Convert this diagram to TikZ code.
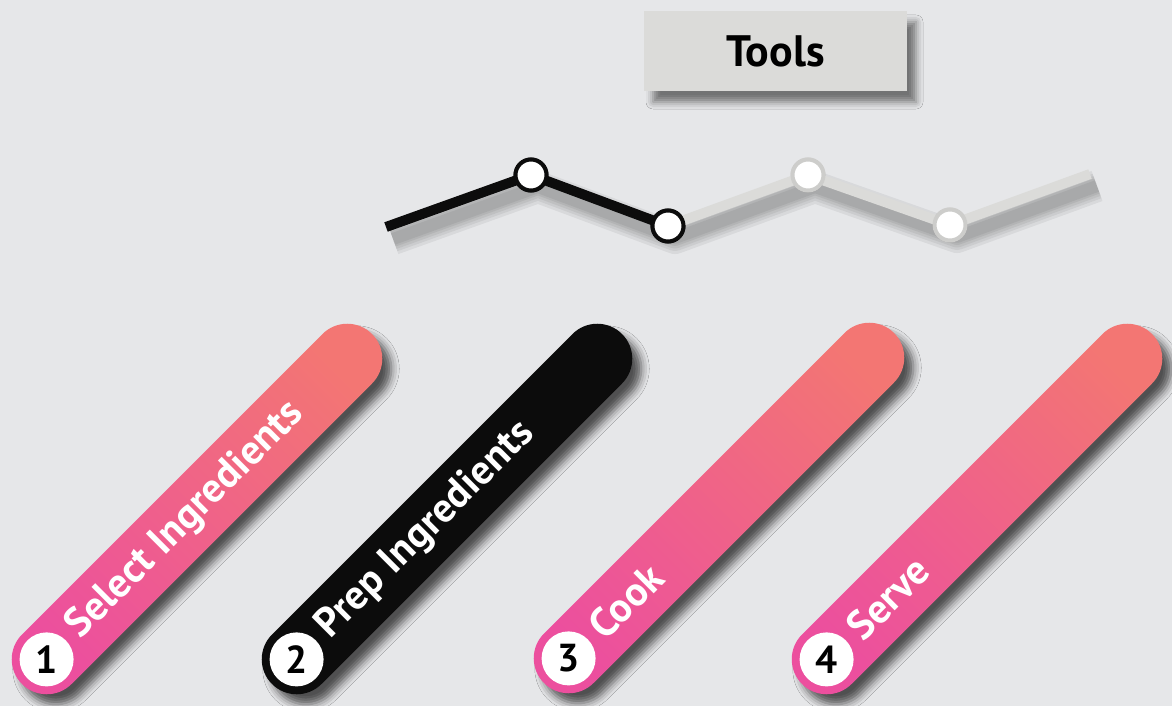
\documentclass[tikz,border=0pt]{standalone}
\usepackage{fontspec}
\setmainfont{PT Sans}
\usetikzlibrary{calc,positioning,shadows.blur}
\definecolor{bgGray}{HTML}{E6E7E9}
\definecolor{pinkLow}{HTML}{EC4F9E}
\definecolor{salmonHigh}{HTML}{F37673}
\definecolor{inkBlack}{HTML}{0C0C0C}
\definecolor{toolGray}{HTML}{DBDBD9}
\definecolor{trackGray}{HTML}{DBDBD9}
\definecolor{ringGray}{HTML}{CDCDCB}

\begin{document}
\begin{tikzpicture}[x=1pt,y=-1pt,
  pill/.style={rectangle,rounded corners=35pt,minimum width=495pt,
               minimum height=70pt,inner sep=0pt,rotate=45,
               blur shadow={shadow xshift=9pt,shadow yshift=-10pt,
                            shadow blur radius=8pt,shadow opacity=65}},
  warm/.style={pill,top color=salmonHigh,bottom color=pinkLow,
               shading angle=-45},
  dark/.style={pill,fill=inkBlack},
  numdot/.style={circle,fill=white,minimum size=54pt,inner sep=0pt,
                 text=black,font=\fontsize{39}{39}\selectfont\bfseries},
  steplabel/.style={anchor=west,rotate=45,inner sep=0pt,text=white,
                    font=\fontsize{41}{41}\selectfont\bfseries},
  toolbox/.style={rectangle,fill=toolGray,minimum width=263pt,
                  minimum height=80pt,inner sep=0pt,
                  font=\fontsize{44}{44}\selectfont\bfseries,
                  blur shadow={shadow xshift=9pt,shadow yshift=-11pt,
                               shadow blur radius=7pt,shadow opacity=50}},
  trackdark/.style={line width=10pt,draw=inkBlack,line join=round},
  tracklight/.style={line width=10pt,draw=trackGray,line join=round},
  dotdark/.style={circle,draw=inkBlack,line width=4pt,fill=white,
                  minimum size=31pt,inner sep=0pt},
  dotlight/.style={dotdark,draw=ringGray}
]
\fill[bgGray] (0,0) rectangle (1172,706);
\useasboundingbox (0,0) rectangle (1172,706);

% tools header
\node[toolbox] (tools) at (775.5,51) {Tools};

% track points
\coordinate (start) at (386,227);
\node[dotdark]  (A) at (531,175) {};
\node[dotdark]  (B) at (668,226) {};
\node[dotlight] (C) at (808,175) {};
\node[dotlight] (D) at (950,225) {};
\coordinate (end) at (1090,174);

% soft shadow under the track
\begin{scope}[transform canvas={xshift=7pt,yshift=-12pt}]
\foreach \w in {32,26,21,16,12}
  \draw[line width=\w pt,draw=black,opacity=0.06,line join=round]
    (start) -- (A.center) -- (B.center) -- (C.center) -- (D.center) -- (end);
\end{scope}

\draw[trackdark]  (start) -- (A.center) -- (B.center);
\draw[tracklight] (B.center) -- (C.center) -- (D.center) -- (end);
\node[dotdark]  at (A) {};
\node[dotdark]  at (B) {};
\node[dotlight] at (C) {};
\node[dotlight] at (D) {};

% steps
\node[warm] (p1) at (197,509) {};
\node[dark] (p2) at (447,509) {};
\node[warm] (p3) at (719,508) {};
\node[warm] (p4) at (977,509) {};

\node[numdot] (n1) at ($(p1.west)!35pt!(p1.east)$) {1};
\node[numdot] (n2) at ($(p2.west)!35pt!(p2.east)$) {2};
\node[numdot] (n3) at ($(p3.west)!35pt!(p3.east)$) {3};
\node[numdot] (n4) at ($(p4.west)!35pt!(p4.east)$) {4};

\node[steplabel] (l1) at ($(p1.west)!73pt!(p1.east)$) {Select Ingredients};
\node[steplabel] (l2) at ($(p2.west)!73pt!(p2.east)$) {Prep Ingredients};
\node[steplabel] (l3) at ($(p3.west)!73pt!(p3.east)$) {Cook};
\node[steplabel] (l4) at ($(p4.west)!73pt!(p4.east)$) {Serve};
\end{tikzpicture}
\end{document}
